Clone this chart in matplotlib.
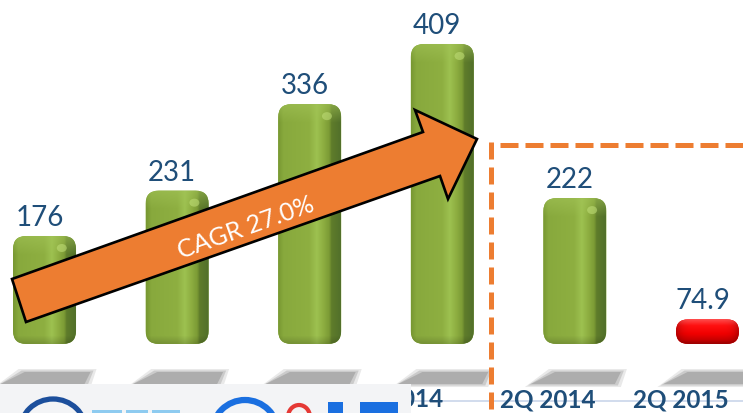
import numpy as np
import matplotlib
matplotlib.use("Agg")
import matplotlib.pyplot as plt
from matplotlib.patches import FancyBboxPatch, Polygon, Rectangle, Arc, Ellipse
from matplotlib.colors import LinearSegmentedColormap, to_rgb

categories = ["2011", "2012", "2013", "2014", "2Q 2014", "2Q 2015"]
values = [176, 231, 336, 409, 222, 74.9]
value_labels = ["176", "231", "336", "409", "222", "74.9"]
highlight = [False, False, False, False, False, True]
cagr_label = "CAGR 27.0%"

W, H = 743, 414
XMIN, XMAX = -0.336, 5.268
YMIN, YMAX = -38.8, 463.6
BASE = 45          # visible bar floor
BAR_W = 0.475

BLUE_TXT = "#1f4e79"
ORANGE = "#ED7D31"

fig = plt.figure(figsize=(W / 100, H / 100), dpi=100)
ax = fig.add_axes([0, 0, 1, 1])
ax.set_xlim(XMIN, XMAX)
ax.set_ylim(YMIN, YMAX)
ax.axis("off")

xu = (XMAX - XMIN) / W   # data units per pixel
yu = (YMAX - YMIN) / H
ASP = yu / xu


def px(x, y):
    """pixel (from top-left) -> axes fraction (axes fills the figure)"""
    return x / W, 1 - y / H


green = LinearSegmentedColormap.from_list("g", [
    (0.0, "#789832"), (0.08, "#88a93d"), (0.5, "#8eaf41"), (0.62, "#9dc150"),
    (0.72, "#8eaf41"), (0.82, "#7c9b35"), (0.86, "#5f7c2b"), (1.0, "#52702a")])
red = LinearSegmentedColormap.from_list("r", [
    (0.0, "#ff4a4a"), (0.25, "#ff1010"), (0.6, "#f00000"), (0.85, "#c80000"), (1.0, "#9a0000")])


def bar_image(h_px, is_red):
    ncol = 64
    nrow = max(int(h_px), 4)
    xs = np.linspace(0, 1, ncol)
    if is_red:
        ys = np.linspace(0, 1, nrow)
        img = red(ys)[:, None, :3] * np.ones((1, ncol, 1))
        edge = 1 - 0.25 * (np.abs(xs - 0.5) * 2) ** 6
        img = img * edge[None, :, None]
        return np.clip(img, 0, 1)
    img = green(xs)[None, :, :3] * np.ones((nrow, 1, 1))
    top = np.array(to_rgb("#a3c458"))
    for r in range(min(18, nrow)):
        k = 0.55 * (1 - r / 18)
        img[r] = img[r] * (1 - k) + top * k
    for r in range(min(8, nrow)):
        img[nrow - 1 - r] *= 1 - 0.15 * (1 - r / 8)
    return np.clip(img, 0, 1)


# floor shadows
for i in range(len(categories)):
    for grow, a in [(6, 0.25), (3, 0.45), (0, 0.85)]:
        pts = [(i + (-44 - grow) * xu, (382 - 385 - grow / 2) / 0.824),
               (i + (40 + grow) * xu, (382 - 385 - grow / 2) / 0.824),
               (i + (46 + grow) * xu, (382 - 373 + grow / 2) / 0.824),
               (i + (-20 - grow) * xu, (382 - 373 + grow / 2) / 0.824)]
        ax.add_patch(Polygon(pts, closed=True, fc="#a8a8a8", ec="none", alpha=a, zorder=1))

# bars
for i, (v, hl) in enumerate(zip(values, highlight)):
    x0 = i - BAR_W / 2
    h = v - BASE
    r = (h / ASP) / 2 * 0.98 if hl else 13 * xu
    patch = FancyBboxPatch((x0, BASE), BAR_W, h,
                           boxstyle=f"round,pad=0,rounding_size={r}",
                           mutation_aspect=ASP,
                           fc="#ff0000" if hl else "#8aab3f", ec="none", zorder=2)
    ax.add_patch(patch)
    im = ax.imshow(bar_image(h / yu, hl), extent=[x0, x0 + BAR_W, BASE, v],
                   aspect="auto", origin="upper", zorder=3, interpolation="bilinear")
    im.set_clip_path(patch)
    if not hl:
        ax.add_patch(Ellipse((i + 0.13, v - 12 * yu), 10 * xu, 8 * yu,
                             fc="#c2e07a", ec="none", alpha=0.55, zorder=4))
    ax.annotate(value_labels[i], (i, v), xytext=(-3.6, 8), textcoords="offset points",
                ha="center", va="baseline", fontsize=20, family="Lato",
                color=BLUE_TXT, zorder=5)

# axis line + category labels
ax.plot([0, 1], [1 - 402 / H] * 2, transform=ax.transAxes, color="#c9d5ea",
        lw=1.2, zorder=4)
for i, c in enumerate(categories):
    ax.annotate(c, (i, 0), xycoords=("data", "axes fraction"),
                xytext=(-27 * 0.72, (H - 400) * 0.72), textcoords="offset points",
                ha="center", va="center", fontsize=17.5, fontweight="bold",
                family="Lato", color=BLUE_TXT, zorder=5, clip_on=True)

# dashed highlight box
ax.plot(*zip(px(500, 146), px(745, 146)), transform=ax.transAxes, color=ORANGE,
        lw=3.6, dashes=(3.6, 1.4), solid_capstyle="butt", zorder=6)
ax.plot(*zip(px(491, 143), px(491, 416)), transform=ax.transAxes, color=ORANGE,
        lw=3.6, dashes=(3.4, 1.6), solid_capstyle="butt", zorder=6)

# CAGR arrow
arrow_px = [(12, 280), (423, 133), (415, 111), (477, 140), (448, 200), (440, 177), (26, 323)]
ax.add_patch(Polygon([px(*p) for p in arrow_px], closed=True, transform=ax.transAxes,
                     fc=ORANGE, ec="black", lw=1.9, joinstyle="miter", zorder=7))
ax.text(*px(246, 228), cagr_label, transform=ax.transAxes, rotation=19.7,
        rotation_mode="anchor", ha="center", va="center", fontsize=18,
        family="Lato", color="white", zorder=8)

# overlapping logo strip (bottom left)
ax.add_patch(Rectangle(px(0, 414), 411 / W, 29 / H, transform=ax.transAxes,
                       fc="#f3f4f6", ec="none", zorder=10, clip_on=False))
ax.add_patch(Arc(px(53, 432), 66 / W, 64 / H, theta1=0, theta2=180,
                 transform=ax.transAxes, color="#1c4f9c", lw=3.8, zorder=11))
for x0, w in [(92, 30), (126, 22), (152, 28)]:
    ax.add_patch(Rectangle(px(x0, 414), w / W, 3 / H, transform=ax.transAxes,
                           fc="#8ecbf0", ec="none", zorder=11))
ax.add_patch(Arc(px(245, 434), 66 / W, 66 / H, theta1=0, theta2=180,
                 transform=ax.transAxes, color="#1a6fe0", lw=4.5, zorder=11))
ax.add_patch(Ellipse(px(299, 418), 22 / W, 24 / H, transform=ax.transAxes,
                     fc="#f4f4f4", ec="#e53935", lw=3, zorder=11))
ax.add_patch(Rectangle(px(328, 414), 15 / W, 11 / H, transform=ax.transAxes,
                       fc="#1a6fe0", ec="none", zorder=11))
ax.add_patch(Rectangle(px(360, 414), 38 / W, 11 / H, transform=ax.transAxes,
                       fc="#1a6fe0", ec="none", zorder=11))

fig.savefig("out.png", dpi=100)
